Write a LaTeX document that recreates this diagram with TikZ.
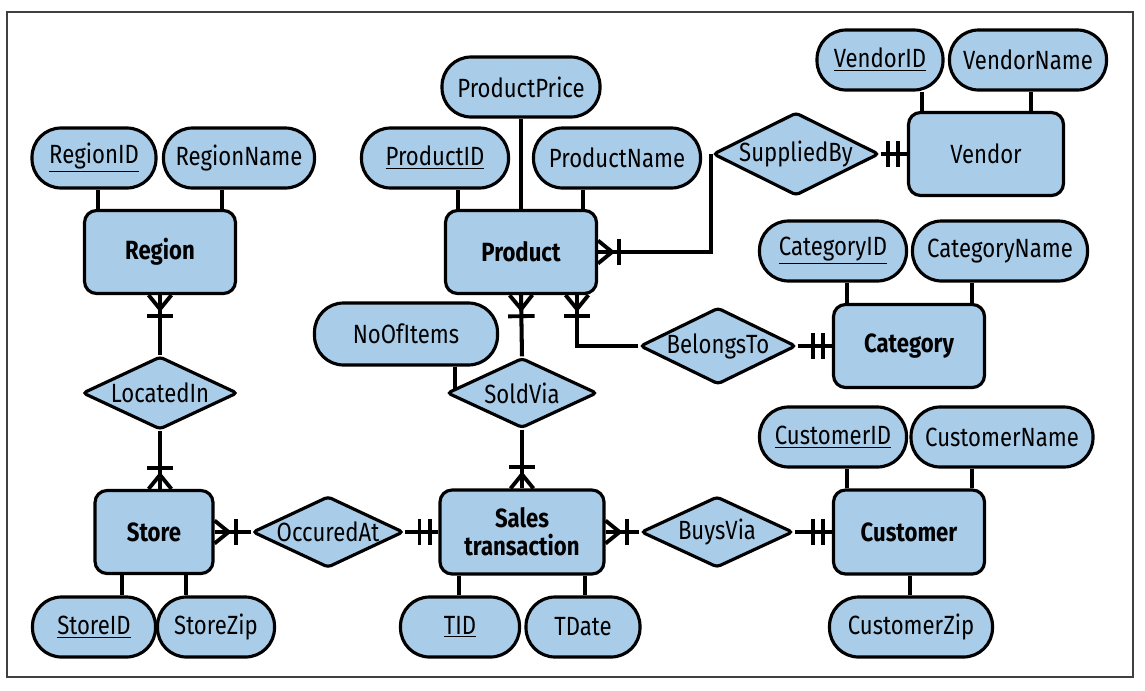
\documentclass[tikz,border=0pt]{standalone}
\usepackage{fontspec}
\setmainfont{Fira Sans}[FakeStretch=0.84]
\usepackage{tikz}
\usetikzlibrary{shapes.geometric}
\definecolor{erblue}{HTML}{A9CCE9}
\definecolor{framegray}{HTML}{404040}

% crow's foot with one bar (one or many)
\pgfdeclarearrow{
  name = crowmany,
  setup code = {
    \pgfarrowssettipend{0pt}
    \pgfarrowssetlineend{0pt}
    \pgfarrowssetbackend{-13pt}
    \pgfarrowssetvisualbackend{-13pt}
    \pgfarrowshullpoint{0pt}{7.5pt}
    \pgfarrowshullpoint{0pt}{-7.5pt}
    \pgfarrowshullpoint{-13pt}{7.5pt}
    \pgfarrowshullpoint{-13pt}{-7.5pt}
  },
  drawing code = {
    \pgfsetlinewidth{2.2pt}
    \pgfsetmiterjoin
    \pgfpathmoveto{\pgfqpoint{0pt}{6.5pt}}
    \pgfpathlineto{\pgfqpoint{-8pt}{0pt}}
    \pgfpathlineto{\pgfqpoint{0pt}{-6.5pt}}
    \pgfusepathqstroke
    \pgfpathmoveto{\pgfqpoint{-12pt}{7.5pt}}
    \pgfpathlineto{\pgfqpoint{-12pt}{-7.5pt}}
    \pgfusepathqstroke
  }
}
% two bars (one and only one)
\pgfdeclarearrow{
  name = onlyone,
  setup code = {
    \pgfarrowssettipend{0pt}
    \pgfarrowssetlineend{0pt}
    \pgfarrowssetbackend{-12pt}
    \pgfarrowssetvisualbackend{-12pt}
    \pgfarrowshullpoint{0pt}{7.5pt}
    \pgfarrowshullpoint{0pt}{-7.5pt}
    \pgfarrowshullpoint{-12pt}{7.5pt}
    \pgfarrowshullpoint{-12pt}{-7.5pt}
  },
  drawing code = {
    \pgfsetlinewidth{2.2pt}
    \pgfpathmoveto{\pgfqpoint{-5pt}{7.5pt}}
    \pgfpathlineto{\pgfqpoint{-5pt}{-7.5pt}}
    \pgfpathmoveto{\pgfqpoint{-10.8pt}{7.5pt}}
    \pgfpathlineto{\pgfqpoint{-10.8pt}{-7.5pt}}
    \pgfusepathqstroke
  }
}

\begin{document}
\begin{tikzpicture}[x=0.02cm, y=-0.02cm,
		every node/.style = {font=\fontsize{15}{16}\selectfont},
		ent/.style = {draw, fill=erblue, line width=1.8pt, rounded corners=0.24cm, minimum width=3.02cm, minimum height=1.66cm, align=center, font=\fontsize{15}{16}\selectfont\bfseries},
		attr/.style = {draw, fill=erblue, line width=1.8pt, rounded corners=0.58cm, minimum height=1.2cm, inner xsep=0pt},
		rel/.style = {diamond, draw, fill=erblue, line width=1.8pt, aspect=2, inner sep=0pt, rounded corners=2pt},
		lnk/.style = {line width=2.3pt},
		tomany/.style = {lnk, -{crowmany}},
		toone/.style = {lnk, -{onlyone}}
		]
		\useasboundingbox (0,0) rectangle (1145,690);
		\draw[framegray, line width=1pt] (7,12) rectangle (1133,677);
		
		% entities
		\node (region) [ent] at (160,252) {Region};
		\node (product) [ent] at (521,252) {Product};
		\node (vendor) [ent, minimum width=3.1cm] at (986,154) {\mdseries Vendor};
		\node (category) [ent] at (909,346) {Category};
		\node (store) [ent, minimum width=2.36cm] at (154,532) {Store};
		\node (sales) [ent, minimum width=3.28cm, minimum height=1.68cm] at (522,532) {Sales\\transaction};
		\node (customer) [ent, minimum height=1.68cm] at (909,532) {Customer};
		
		% relationships
		\node (locin) [rel, minimum width=3.1cm, minimum height=1.46cm] at (160,393) {LocatedIn};
		\node (soldvia) [rel, minimum width=3.0cm, minimum height=1.4cm] at (522,393) {SoldVia};
		\node (belongs) [rel, minimum width=3.12cm, minimum height=1.5cm] at (718,346) {BelongsTo};
		\node (supplied) [rel, minimum width=3.28cm, minimum height=1.56cm] at (796,154) {SuppliedBy};
		\node (occur) [rel, minimum width=3.02cm, minimum height=1.42cm] at (328,532) {OccuredAt};
		\node (buys) [rel, minimum width=3.04cm, minimum height=1.42cm] at (717,532) {BuysVia};
		
		% attributes
		\node (regionid) [attr, minimum width=2.48cm] at (94,158) {\underline{RegionID}};
		\node (regionname) [attr, minimum width=3.02cm] at (239,158) {RegionName};
		\node (prodprice) [attr, minimum width=3.16cm] at (521,87) {ProductPrice};
		\node (prodid) [attr, minimum width=2.94cm] at (435,158) {\underline{ProductID}};
		\node (prodname) [attr, minimum width=3.34cm] at (617,158) {ProductName};
		\node (vendorid) [attr, minimum width=2.52cm] at (880,60) {\underline{VendorID}};
		\node (vendorname) [attr, minimum width=3.14cm] at (1028,60) {VendorName};
		\node (catid) [attr, minimum width=2.94cm] at (833,251) {\underline{CategoryID}};
		\node (catname) [attr, minimum width=3.5cm] at (1000,251) {CategoryName};
		\node (noitems) [attr, minimum width=3.66cm, minimum height=1.24cm] at (406,334) {NoOfItems};
		\node (custid) [attr, minimum width=2.94cm] at (833,437) {\underline{CustomerID}};
		\node (custname) [attr, minimum width=3.64cm] at (1002,437) {CustomerName};
		\node (storeid) [attr, minimum width=2.46cm] at (94,627) {\underline{StoreID}};
		\node (storezip) [attr, minimum width=2.34cm] at (216,627) {StoreZip};
		\node (tid) [attr, minimum width=2.38cm] at (460,627) {\underline{TID}};
		\node (tdate) [attr, minimum width=2.28cm] at (583,627) {TDate};
		\node (custzip) [attr, minimum width=3.26cm] at (911,627) {CustomerZip};
		
		% attribute links
		\foreach \x/\a/\e in {98/regionid/region, 222/regionname/region, 458/prodid/product, 521/prodprice/product, 583/prodname/product, 922/vendorid/vendor, 1031/vendorname/vendor, 847/catid/category, 972/catname/category, 847/custid/customer, 972/custname/customer}
			\draw[lnk] (\x,0 |- \a.south) -- (\x,0 |- \e.north);
		\foreach \x/\a/\e in {122/storeid/store, 186/storezip/store, 459/tid/sales, 585/tdate/sales, 910/custzip/customer}
			\draw[lnk] (\x,0 |- \e.south) -- (\x,0 |- \a.north);
		\draw[lnk] (455,0 |- noitems.south) -- (455,389);
		
		% relationship links
		\draw[tomany] (locin.north) -- (region.south);
		\draw[tomany] (locin.south) -- (locin.south |- store.north);
		\draw[tomany] (soldvia.north) -- (product.south);
		\draw[tomany] (soldvia.south) -- (sales.north);
		\draw[tomany] (belongs.west) -| ([xshift=1.12cm]product.south);
		\draw[toone] (belongs.east) -- (category.west);
		\draw[tomany] (supplied.west) |- (product.east);
		\draw[toone] (supplied.east) -- (vendor.west);
		\draw[tomany] (occur.west) -- (store.east);
		\draw[toone] (occur.east) -- (sales.west);
		\draw[tomany] (buys.west) -- (sales.east);
		\draw[toone] (buys.east) -- (customer.west);
\end{tikzpicture}
\end{document}
